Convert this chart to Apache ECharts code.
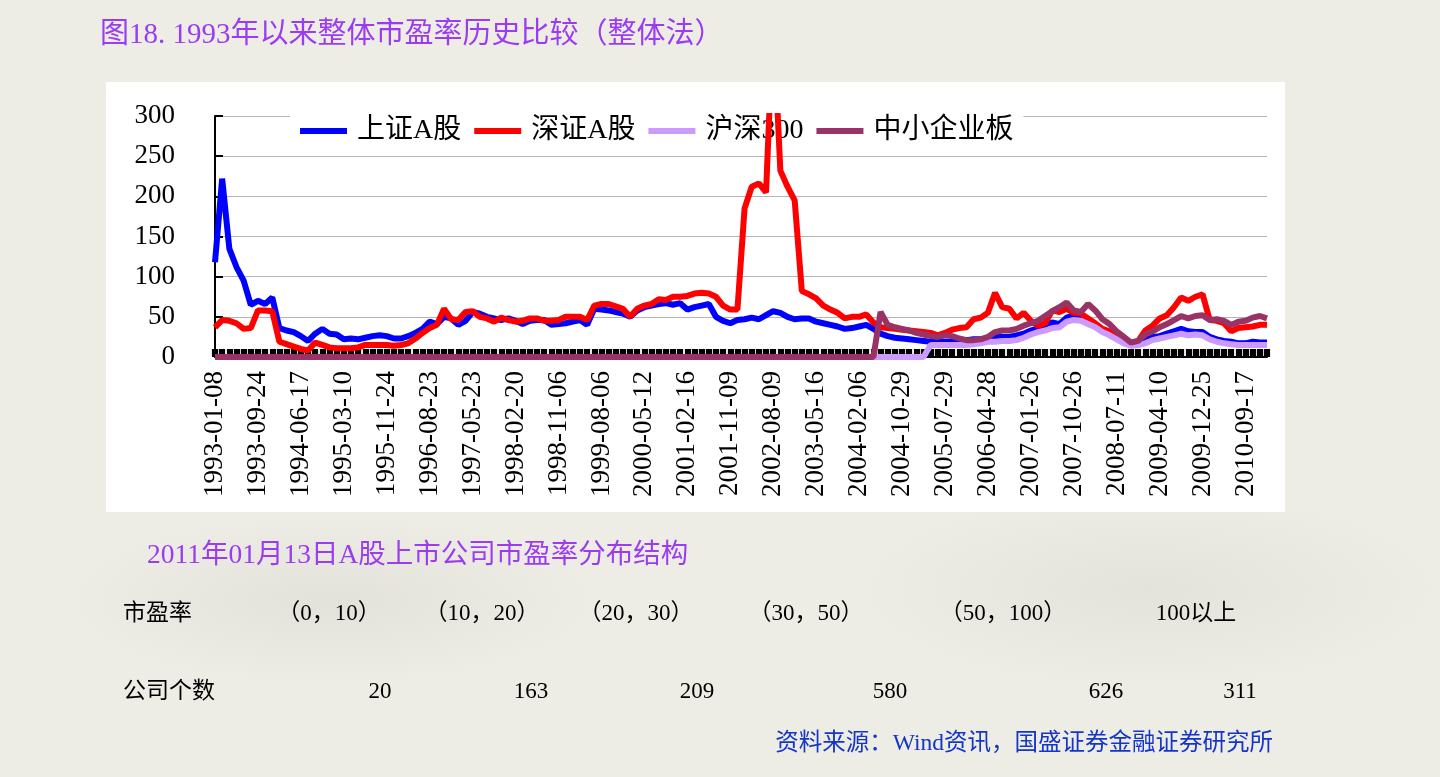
<!DOCTYPE html>
<html><head><meta charset="utf-8">
<script src="https://cdn.jsdelivr.net/npm/echarts@6/dist/echarts.min.js"></script>
<style>
html,body{margin:0;padding:0;width:1440px;height:777px;overflow:hidden;}
#bg{position:absolute;left:0;top:0;width:1440px;height:777px;
 background:
  radial-gradient(ellipse 380px 120px at 330px 600px, rgba(190,190,180,0.22), rgba(190,190,180,0) 70%),
  radial-gradient(ellipse 420px 140px at 1150px 590px, rgba(190,190,180,0.2), rgba(190,190,180,0) 70%),
  #EDECE5;}
#panel{position:absolute;left:106px;top:82px;width:1179px;height:430px;background:#fff;}
#chart{position:absolute;left:0;top:0;width:1440px;height:777px;}
</style></head><body>
<div id="bg"></div><div id="panel"></div><div id="chart"></div>
<script>
// ---- data ----
const tickLabels = ['1993-01-08','1993-09-24','1994-06-17','1995-03-10','1995-11-24','1996-08-23','1997-05-23','1998-02-20','1998-11-06','1999-08-06','2000-05-12','2001-02-16','2001-11-09','2002-08-09','2003-05-16','2004-02-06','2004-10-29','2005-07-29','2006-04-28','2007-01-26','2007-10-26','2008-07-11','2009-04-10','2009-12-25','2010-09-17'];
const seriesNames = ['上证A股','深证A股','沪深300','中小企业板'];
const shA = [
 118,222,135,112,95,65,70,66,74,36,
 33,31,26,20,29,35,29,28,22,23,
 22,24,26,27,26,23,23,26,30,35,
 44,41,50,48,40,45,56,54,50,48,
 46,48,45,41,45,46,46,40,41,42,
 44,46,40,60,59,58,56,54,50,58,
 62,64,66,67,65,67,59,62,64,66,
 50,45,42,46,47,49,47,52,57,55,
 50,47,48,48,44,42,40,38,35,36,
 38,40,35,29,26,24,23,22,21,20,
 19,19,19,19,20,21,22,22,23,26,
 25,25,27,29,33,36,39,43,41,49,
 52,49,45,40,33,28,25,19,16,18,
 21,25,26,29,32,35,32,31,31,25,
 22,20,19,17,17,19,18,18];
const szA = [
 37,46,45,42,35,36,58,58,57,19,
 16,13,10,8,18,15,12,11,11,11,
 12,15,15,15,15,14,15,17,23,30,
 36,40,60,47,46,56,57,50,48,44,
 49,46,44,45,48,48,45,45,46,50,
 50,50,46,64,66,66,63,60,50,60,
 64,66,72,71,75,75,76,79,80,79,
 75,64,59,59,185,212,216,205,420,232,
 212,195,82,78,73,64,59,55,48,50,
 50,53,43,37,36,35,34,33,32,31,
 30,27,30,34,36,37,47,49,55,80,
 62,60,48,55,45,39,42,58,56,60,
 55,54,48,42,35,32,25,22,17,20,
 33,39,48,52,62,74,70,75,78,46,
 45,42,32,36,37,38,40,40];
const hs300 = [
 0,0,0,0,0,0,0,0,0,0,
 0,0,0,0,0,0,0,0,0,0,
 0,0,0,0,0,0,0,0,0,0,
 0,0,0,0,0,0,0,0,0,0,
 0,0,0,0,0,0,0,0,0,0,
 0,0,0,0,0,0,0,0,0,0,
 0,0,0,0,0,0,0,0,0,0,
 0,0,0,0,0,0,0,0,0,0,
 0,0,0,0,0,0,0,0,0,0,
 0,0,0,0,0,0,0,0,0,0,
 15,15,15,15,15,15,16,17,19,19,
 20,20,21,24,28,31,33,36,37,44,
 46,45,41,37,31,27,22,17,14,15,
 17,21,23,25,27,29,27,28,27,22,
 19,17,16,15,15,15,15,15];
const zxb = [
 0,0,0,0,0,0,0,0,0,0,
 0,0,0,0,0,0,0,0,0,0,
 0,0,0,0,0,0,0,0,0,0,
 0,0,0,0,0,0,0,0,0,0,
 0,0,0,0,0,0,0,0,0,0,
 0,0,0,0,0,0,0,0,0,0,
 0,0,0,0,0,0,0,0,0,0,
 0,0,0,0,0,0,0,0,0,0,
 0,0,0,0,0,0,0,0,0,0,
 0,0,0,56,40,37,35,33,30,28,
 26,25,27,26,23,21,21,22,25,31,
 33,33,35,39,42,45,51,57,62,68,
 58,56,66,58,47,41,32,25,18,20,
 28,32,37,41,46,51,48,51,52,46,
 47,45,40,44,45,49,51,48];
const yTicks = {min:0, max:300, step:50};
const titleText = '图18. 1993年以来整体市盈率历史比较（整体法）';
const subTitleText = '2011年01月13日A股上市公司市盈率分布结构';
const peBins = ['（0，10）','（10，20）','（20，30）','（30，50）','（50，100）','100以上'];
const companyCounts = [20,163,209,580,626,311];
const sourceText = '资料来源：Wind资讯，国盛证券金融证券研究所';

// ---- layout ----
const PER = 6; // points per labelled interval
const categories = shA.map((_, i) => i % PER === 0 ? tickLabels[i / PER] : (tickLabels[Math.floor(i / PER)] + '~' + (i % PER)));
const SERIF = "'Liberation Serif','Noto Sans CJK SC',serif";
const PURPLE = '#9B3CF2';
const colors = ['#0000FF','#FF0000','#CC99FF','#993366'];
const row1X = [329,482,636,806,1003,1196];
const row2X = [380,531,697,890,1106,1240];

function txt(text, x, y, size, color, align) {
  return {type:'text', x:x, y:y, silent:true,
    style:{text:text, fill:color, font: size + 'px ' + SERIF,
      align:align||'left', verticalAlign:'middle', textAlign:align||'left', textVerticalAlign:'middle'}};
}
const graphics = [
  txt(titleText, 100, 35, 29, PURPLE),
  txt(subTitleText, 147, 556, 27.5, PURPLE),
  txt('市盈率', 123, 614, 23, '#000'),
  txt('公司个数', 123, 692, 23, '#000'),
  txt(sourceText, 1273, 744, 23.5, '#1435C8', 'right')
];
peBins.forEach((b, i) => graphics.push(txt(b, row1X[i], 614, 23, '#000', 'center')));
companyCounts.forEach((c, i) => graphics.push(txt(String(c), row2X[i], 692, 23, '#000', 'center')));

const chart = echarts.init(document.getElementById('chart'), null, {renderer:'canvas'});
chart.setOption({
  backgroundColor:'transparent',
  animation:false,
  grid:{left:215, right:173, top:116, bottom:420},
  legend:{
    data:seriesNames, left:290, top:113, z:1,
    backgroundColor:'#fff', padding:[4,10,4,10],
    itemWidth:47, itemHeight:6, itemGap:13, icon:'rect',
    textStyle:{fontSize:28, fontFamily:SERIF, color:'#000', padding:[0,0,0,5]}
  },
  xAxis:{
    type:'category', data:categories, boundaryGap:false,
    axisLine:{lineStyle:{color:'#000', width:2}},
    axisTick:{show:true, inside:true, length:8, interval:0, lineStyle:{color:'#000', width:6.2}},
    axisLabel:{interval:(i) => i % PER === 0, rotate:90, margin:14, fontSize:27, fontFamily:SERIF, color:'#000'},
    splitLine:{show:false}
  },
  yAxis:{
    type:'value', min:yTicks.min, max:yTicks.max, interval:yTicks.step,
    axisLine:{show:true, lineStyle:{color:'#000', width:2}},
    axisTick:{show:true, inside:true, length:8, lineStyle:{color:'#000', width:2}},
    axisLabel:{margin:40, fontSize:27, fontFamily:SERIF, color:'#000'},
    splitLine:{lineStyle:{color:'#b4b4b4', width:1}}
  },
  series:[shA, szA, hs300, zxb].map((d, k) => ({
    name:seriesNames[k], type:'line', data:d, z:2+k,
    showSymbol:false, symbol:'none', clip:true,
    itemStyle:{color:colors[k]},
    lineStyle:{color:colors[k], width:6},
    emphasis:{disabled:true}
  })),
  graphic:graphics
});
</script>
</body></html>
